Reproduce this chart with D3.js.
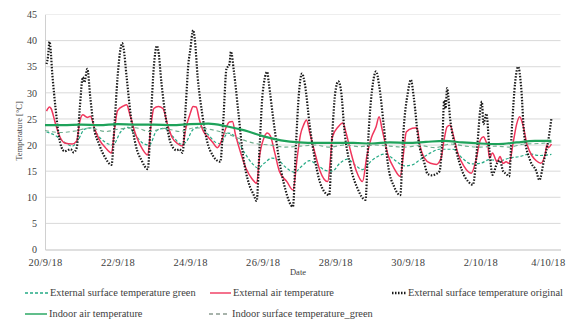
<!DOCTYPE html>
<html>
<head>
<meta charset="utf-8">
<script src="https://cdn.jsdelivr.net/npm/d3@7"></script>
<style>
  body { margin: 0; background: #fff; }
  svg { display: block; }
  .tick text { font-family: "Liberation Serif", serif; fill: #404040; }
</style>
</head>
<body>
<div id="chart"></div>
<script>
// time = hours after 20/9/18 00:00
const tickDates = ["2018-09-20", "2018-09-22", "2018-09-24", "2018-09-26", "2018-09-28", "2018-09-30", "2018-10-02", "2018-10-04"];
const yTicks = [0, 5, 10, 15, 20, 25, 30, 35, 40, 45];

// External surface temperature original (black dotted)
const extOrigHours = [1, 2, 3, 5, 7, 9, 11, 13, 17, 19, 21, 23, 25, 26, 28, 30, 32, 36, 40, 44, 46, 48, 50, 51, 52, 54, 57, 60, 64, 68, 70, 72, 74, 75, 77, 80, 83, 87, 89, 91, 93, 95, 96, 98, 99, 101, 104, 107, 111, 116, 118, 120, 122, 123, 125, 128, 131, 135, 138, 140, 142, 144, 147, 148, 151, 155, 159, 164, 166, 168, 170, 172, 175, 179, 183, 188, 190, 192, 194, 196, 198, 202, 207, 212, 214, 217, 219, 221, 224, 227, 231, 235, 237, 240, 242, 244, 247, 251, 253, 256, 259, 261, 263, 264, 265, 266, 268, 272, 276, 280, 283, 286, 288, 289, 290, 292, 294, 296, 299, 301, 303, 305, 307, 309, 311, 313, 315, 317, 321, 325, 327, 330, 333, 335];
const extOrigVals = [35.5, 37, 39.8, 33, 27, 22, 19.5, 18.8, 19.2, 18.6, 19.5, 27, 33, 32, 34.6, 29, 24, 20, 17.5, 16.2, 24, 33, 38.5, 39.5, 38.5, 33, 25, 20, 17, 15.4, 25, 35, 39, 38, 32, 25, 20.5, 19, 19.2, 18.5, 27, 36, 38, 42, 40.5, 33, 26, 21, 18, 16.8, 25, 34.5, 35.5, 37.9, 34, 26, 18, 12.5, 10.5, 9.3, 20, 30, 34, 32, 25, 17, 11.5, 8.2, 20, 30, 33.7, 31.5, 24, 16.5, 12, 10.4, 22, 30, 32.2, 30, 23, 16, 11.5, 9.5, 22, 32, 34.1, 31.5, 24, 16, 12, 10.4, 22, 30, 32.5, 29, 21, 16.5, 14.5, 14.2, 14.5, 15, 22, 28.5, 27, 30.9, 25, 19, 15, 13, 12.4, 20, 27, 28.3, 24, 26, 19, 14.3, 16.5, 17, 15, 14.5, 14, 24, 32, 35, 31, 22, 17, 15, 13.3, 17, 21, 25.1];

// External air temperature (red)
const extAirHours = [1, 3, 4, 7, 10, 13, 18, 21, 23, 25, 28, 30, 33, 36, 40, 44, 46, 48, 52, 54, 56, 60, 63, 68, 70, 72, 75, 78, 81, 84, 88, 91, 93, 96, 98, 100, 102, 105, 108, 111, 114, 117, 120, 122, 124, 126, 130, 133, 137, 140, 142, 145, 147, 149, 152, 155, 160, 164, 167, 169, 171, 173, 175, 179, 182, 187, 189, 190, 194, 197, 199, 202, 206, 210, 213, 216, 219, 221, 223, 227, 231, 235, 237, 239, 243, 246, 248, 251, 255, 259, 262, 264, 266, 268, 270, 273, 277, 282, 285, 288, 290, 292, 293, 294, 296, 299, 301, 303, 305, 307, 310, 312, 314, 316, 319, 322, 325, 328, 331, 332, 333, 335];
const extAirVals = [26.5, 27.3, 27, 24, 21.5, 20.4, 20.2, 20.8, 24.5, 25.8, 25.3, 25.5, 23, 21, 19.5, 18.5, 23, 26.6, 27.5, 27.7, 26, 22, 20, 18.1, 23.5, 27, 27.4, 27, 24, 21.5, 20.2, 19.8, 23, 26, 27.4, 27.3, 25, 22.5, 21.5, 20.5, 19.5, 21, 23.5, 24.4, 24.5, 22, 18, 15.5, 13.5, 12.7, 18, 21.5, 22.3, 21.8, 18.5, 15, 13, 11.4, 18, 22, 23.8, 24.8, 22.5, 18, 15, 13, 18, 21.5, 23.5, 24.2, 22.5, 19, 15, 13, 18, 21.5, 23.5, 25.4, 23, 18, 15.5, 14, 18, 22.5, 23.2, 23.3, 20, 17.5, 16.5, 16.3, 17.5, 21, 23.5, 23.8, 22, 18.5, 16, 14.6, 17, 21, 21.6, 20.5, 19.8, 17.5, 18.5, 16.8, 17.8, 16.5, 16.8, 16.5, 21, 24, 25.4, 24, 20, 18, 17, 16.5, 18.5, 20, 19.5, 20.2];

// External surface temperature green (teal dashed)
const extGreenHours = [1, 7, 13, 18, 22, 26, 31, 36, 42, 45, 50, 55, 60, 65, 69, 74, 79, 85, 90, 93, 98, 103, 108, 113, 116, 121, 126, 132, 137, 141, 145, 150, 154, 159, 165, 170, 175, 180, 186, 190, 195, 200, 205, 210, 216, 225, 231, 238, 243, 248, 255, 261, 270, 276, 282, 288, 294, 301, 307, 314, 321, 327, 335];
const extGreenVals = [22.5, 21.8, 20.5, 19.8, 21, 23, 23.3, 21.5, 20.2, 20, 22.5, 23.4, 21.8, 20.3, 20, 22.8, 23.2, 21.5, 20.2, 20.5, 23, 23.5, 22, 20.5, 20.3, 22.3, 21.5, 18.5, 16.5, 15.6, 16.5, 17.5, 17.2, 15.8, 14.8, 16, 17, 16.2, 15.1, 15, 16.5, 17.3, 16.2, 15.3, 17, 18.3, 17.2, 16, 16.2, 17.2, 18.5, 19.2, 19.2, 17.5, 16.4, 16.5, 17.2, 17, 17.5, 17.8, 18.3, 18, 18.2];

// Indoor air temperature (solid green)
const indoorAirHours = [0, 12, 24, 36, 48, 60, 72, 84, 96, 108, 120, 132, 144, 156, 168, 180, 192, 204, 216, 228, 240, 252, 264, 276, 288, 300, 312, 324, 335];
const indoorAirVals = [23.8, 23.8, 23.9, 23.8, 24, 23.9, 23.9, 23.8, 24, 24.1, 23.6, 22.8, 21.7, 20.9, 20.5, 20.4, 20.4, 20.4, 20.3, 20.5, 20.4, 20.6, 20.8, 20.5, 20.3, 20.2, 20.5, 20.8, 20.8];

// Indoor surface temperature_green (grey-green dashed)
const indoorSurfHours = [0, 10, 20, 30, 40, 50, 60, 69, 79, 89, 99, 109, 119, 129, 139, 149, 159, 169, 179, 188, 198, 208, 218, 228, 238, 248, 258, 268, 278, 288, 298, 307, 317, 327, 335];
const indoorSurfVals = [22.8, 22.4, 22.7, 23.3, 22.6, 23.1, 23.3, 22.6, 23.2, 22.6, 23.3, 23, 22.3, 21.2, 20.3, 20, 19.6, 19.8, 20, 19.6, 20, 19.7, 20, 19.8, 19.6, 19.9, 19.5, 20.2, 19.8, 19.6, 19.8, 19.6, 20.2, 20.3, 20.5];

const seriesNames = ["External surface temperature green", "External air temperature", "External surface temperature original", "Indoor air temperature", "Indoor surface temperature_green"];

const width = 566, height = 321;
const t0 = new Date(2018, 8, 20);
const svg = d3.select("#chart").append("svg")
  .attr("width", width)
  .attr("height", height)
  .style("font-family", "'Liberation Serif', serif");

const x = d3.scaleTime()
  .domain([t0, d3.timeHour.offset(t0, 341)])
  .range([45, 560.5]);
const y = d3.scaleLinear().domain([0, 45]).range([249.5, 14.5]);

// gridlines
svg.append("g").selectAll("line")
  .data(yTicks.filter(d => d > 0))
  .join("line")
  .attr("x1", 45).attr("x2", 560.5)
  .attr("y1", d => y(d)).attr("y2", d => y(d))
  .attr("stroke", d => d == 45 ? "#eeeeee" : "#d9d9d9")
  .attr("stroke-width", 1);

// axes
const parse = d3.timeParse("%Y-%m-%d");
const xAxis = svg.append("g")
  .attr("transform", `translate(0,${y(0)})`)
  .call(d3.axisBottom(x)
    .tickValues(tickDates.map(parse))
    .tickFormat(d3.timeFormat("%-d/%-m/%y"))
    .tickSize(0).tickPadding(9));
xAxis.select(".domain").attr("stroke", "#bfbfbf");
xAxis.selectAll("text").style("font-size", "10.5px").style("letter-spacing", "0.3px");
// last label sits against the right edge
xAxis.selectAll(".tick:last-of-type text").attr("text-anchor", "end").attr("x", 12);

const yAxis = svg.append("g")
  .attr("transform", "translate(45,0)")
  .call(d3.axisLeft(y).tickValues(yTicks).tickSize(0).tickPadding(8));
yAxis.select(".domain").attr("stroke", "#d0d0d0");
yAxis.selectAll("text").style("font-size", "10px");

// axis titles
svg.append("text")
  .attr("x", 298).attr("y", 275)
  .attr("text-anchor", "middle")
  .style("font-size", "8.5px")
  .attr("fill", "#404040")
  .text("Date");
svg.append("text")
  .attr("transform", "translate(22,131) rotate(-90)")
  .attr("text-anchor", "middle")
  .style("font-size", "8.5px")
  .attr("fill", "#404040")
  .text("Temperature [°C]");

// series
const styles = [
  { color: "#25aa85", width: 1.2, dash: "3,2" },
  { color: "#f0365c", width: 1.5, dash: null },
  { color: "#1a1a1a", width: 2.2, dash: "1.5,1.5" },
  { color: "#1ea25a", width: 2.2, dash: null },
  { color: "#6fae8e", width: 1.1, dash: "4,3" }
];
const seriesData = [
  d3.zip(extGreenHours, extGreenVals),
  d3.zip(extAirHours, extAirVals),
  d3.zip(extOrigHours, extOrigVals),
  d3.zip(indoorAirHours, indoorAirVals),
  d3.zip(indoorSurfHours, indoorSurfVals)
];

const line = d3.line()
  .x(d => x(d3.timeHour.offset(t0, d[0])))
  .y(d => y(d[1]))
  .curve(d3.curveMonotoneX);

svg.append("g").selectAll("path")
  .data(seriesData)
  .join("path")
  .attr("d", line)
  .attr("fill", "none")
  .attr("stroke", (d, i) => styles[i].color)
  .attr("stroke-width", (d, i) => styles[i].width)
  .attr("stroke-dasharray", (d, i) => styles[i].dash)
  .attr("stroke-linejoin", "round");

// legend
const legendPos = [[25, 293], [210, 293], [392, 293], [25, 314], [209, 314]];
const legendLen = [23, 21, 14, 22, 21];
const legend = svg.append("g");
seriesNames.forEach((name, i) => {
  const [lx, ly] = legendPos[i];
  legend.append("line")
    .attr("x1", lx).attr("x2", lx + legendLen[i])
    .attr("y1", ly).attr("y2", ly)
    .attr("stroke", i == 4 ? "#8a9a90" : styles[i].color)
    .attr("stroke-width", i == 2 ? 2.4 : 1.4)
    .attr("stroke-dasharray", styles[i].dash);
  legend.append("text")
    .attr("x", lx + legendLen[i] + 2)
    .attr("y", ly + 3)
    .style("font-size", "10.4px")
    .attr("fill", "#404040")
    .text(name);
});
</script>
</body>
</html>
